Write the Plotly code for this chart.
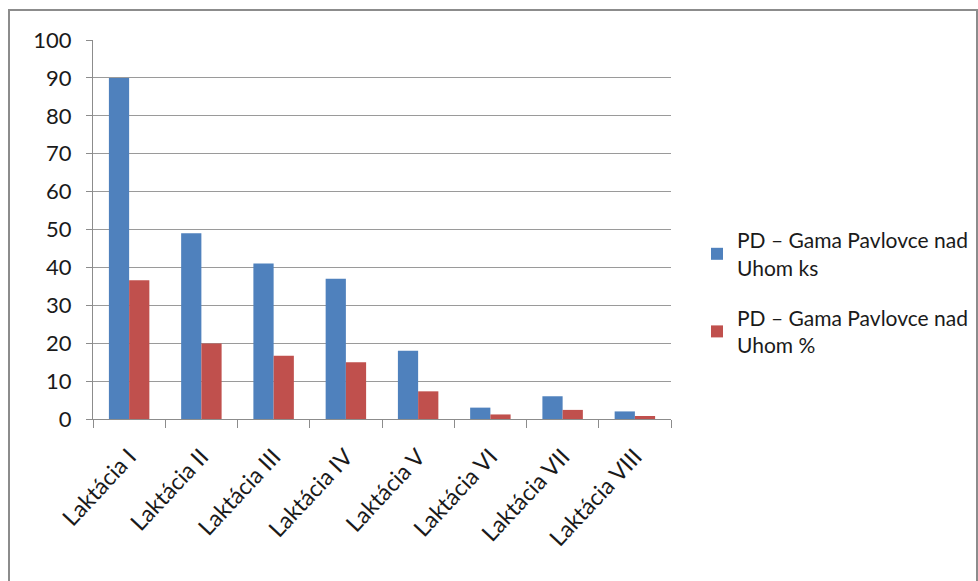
import plotly.graph_objects as go

# Lactation categories and counts / shares per category
categories = ["Laktácia I", "Laktácia II", "Laktácia III", "Laktácia IV",
              "Laktácia V", "Laktácia VI", "Laktácia VII", "Laktácia VIII"]
counts_ks = [90, 49, 41, 37, 18, 3, 6, 2]
share_pct = [36.6, 19.9, 16.7, 15.0, 7.3, 1.2, 2.4, 0.8]
series_names = ["PD – Gama Pavlovce nad<br>Uhom ks", "PD – Gama Pavlovce nad<br>Uhom %"]
series_colors = ["#4F81BD", "#C0504D"]
y_ticks = [0, 10, 20, 30, 40, 50, 60, 70, 80, 90, 100]

W, H = 978, 581
L, R, T, B = 93, 671, 40, 419  # plot area in pixels

def px_x(p):
    return (p - L) / (R - L)

def px_y(p):
    return (B - p) / (B - T)

FONT = "Lato, sans-serif"
TXT = "#1a1a1a"

fig = go.Figure()
for name, vals, col, grp in zip(series_names, [counts_ks, share_pct], series_colors, ["a", "b"]):
    fig.add_trace(go.Bar(x=categories, y=vals, name=name, legendgroup=grp,
                         marker=dict(color=col, line=dict(width=0))))

fig.update_layout(
    width=W, height=H,
    margin=dict(l=L, r=W - R, t=T, b=H - B, pad=0, autoexpand=False),
    paper_bgcolor="white", plot_bgcolor="white",
    barmode="group", bargap=0.44, bargroupgap=0,
    font=dict(family=FONT, size=21, color=TXT),
    showlegend=True,
    legend=dict(x=px_x(697), y=px_y(220), xanchor="left", yanchor="top",
                font=dict(family=FONT, size=21, color=TXT),
                traceorder="grouped", tracegroupgap=20,
                bgcolor="rgba(0,0,0,0)", itemwidth=30),
    shapes=[dict(type="rect", xref="paper", yref="paper",
                 x0=px_x(9), x1=px_x(977), y0=px_y(600), y1=px_y(10),
                 line=dict(color="#8c8c8c", width=2), fillcolor="rgba(0,0,0,0)",
                 layer="below")],
)

fig.update_yaxes(range=[0, 100], tickvals=y_ticks, ticktext=[str(v) for v in y_ticks],
                 showgrid=True, gridcolor="#9a9a9a", gridwidth=1.3,
                 showline=True, linecolor="#8c8c8c", linewidth=1.3,
                 ticks="outside", ticklen=6, tickcolor="#8c8c8c",
                 ticklabelstandoff=10, zeroline=False,
                 tickfont=dict(family=FONT, size=22, color=TXT))
fig.update_xaxes(tickangle=-47, tickson="boundaries", ticks="outside", ticklen=8,
                 tickcolor="#8c8c8c", showline=True, linecolor="#8c8c8c", linewidth=1.3,
                 showgrid=False, ticklabelstandoff=14,
                 tickfont=dict(family=FONT, size=23, color=TXT))

fig.write_html("out.html")
